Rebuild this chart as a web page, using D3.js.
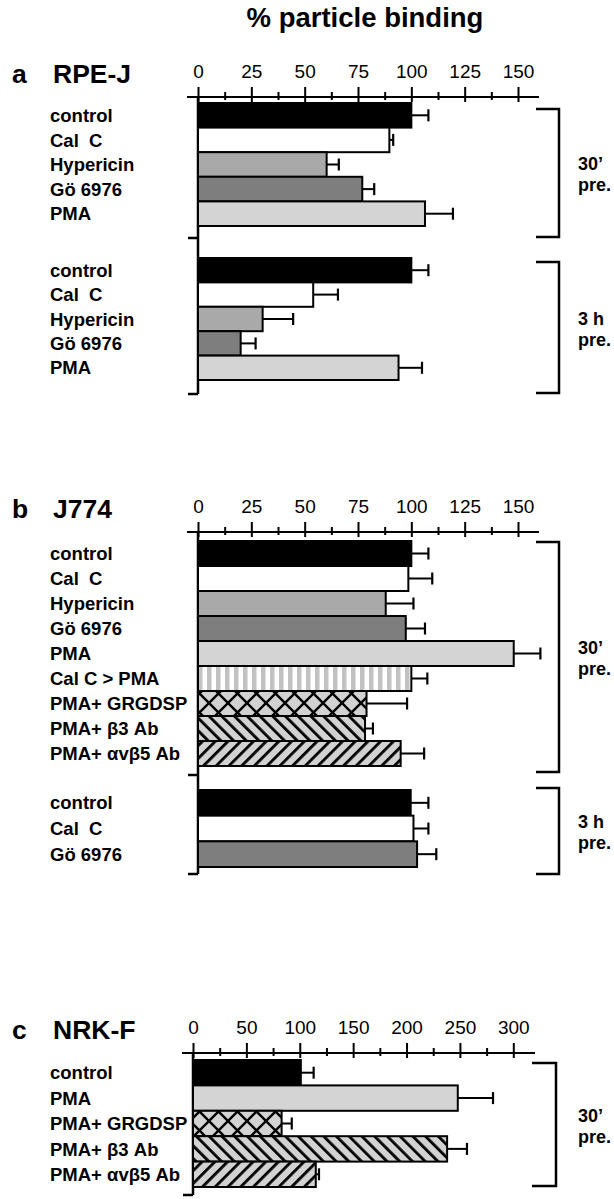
<!DOCTYPE html>
<html><head><meta charset="utf-8">
<script src="https://cdn.jsdelivr.net/npm/d3@7"></script>
<style>
body{margin:0;background:#fff}
svg{display:block}
text{font-family:"Liberation Sans",Arial,Helvetica,sans-serif;fill:#000}
</style>
</head><body>
<svg id="chart" width="614" height="1199"></svg>
<script>
// ---------- DATA ----------
const titleText = "% particle binding";

// Panel a: RPE-J
const aTicks = [0, 25, 50, 75, 100, 125, 150];
const aLabels1 = ["control", "Cal  C", "Hypericin", "Gö 6976", "PMA"];
const aValues1 = [100, 89.7, 60.3, 77, 106.4];
const aErrors1 = [8, 1.8, 5.7, 5.6, 13.1];
const aFills1 = ["black", "white", "hyp", "go", "pma"];
const aLabels2 = ["control", "Cal  C", "Hypericin", "Gö 6976", "PMA"];
const aValues2 = [100, 54, 30.3, 20, 94];
const aErrors2 = [8, 11.6, 14.3, 7, 11];
const aFills2 = ["black", "white", "hyp", "go", "pma"];

// Panel b: J774
const bTicks = [0, 25, 50, 75, 100, 125, 150];
const bLabels1 = ["control", "Cal  C", "Hypericin", "Gö 6976", "PMA", "Cal C > PMA", "PMA+ GRGDSP", "PMA+ β3 Ab", "PMA+ αvβ5 Ab"];
const bValues1 = [100, 98.6, 88, 97.4, 148, 100, 79, 78.3, 95];
const bErrors1 = [8, 11.2, 13, 9, 12.5, 7.5, 19, 3.7, 11];
const bFills1 = ["black", "white", "hyp", "go", "pma", "stripe", "cross", "back", "fwd"];
const bLabels2 = ["control", "Cal  C", "Gö 6976"];
const bValues2 = [99.7, 101, 102.7];
const bErrors2 = [8.3, 7, 9];
const bFills2 = ["black", "white", "go"];

// Panel c: NRK-F
const cTicks = [0, 50, 100, 150, 200, 250, 300];
const cLabels = ["control", "PMA", "PMA+ GRGDSP", "PMA+ β3 Ab", "PMA+ αvβ5 Ab"];
const cValues = [101, 248, 83, 238, 115];
const cErrors = [12, 33, 9.5, 18.6, 3];
const cFills = ["black", "pma", "cross", "back", "fwd"];

const bracketText30 = ["30’", "pre."];
const bracketText3h = ["3 h", "pre."];

// ---------- DRAW ----------
const svg = d3.select("#chart");
const defs = svg.append("defs");

(function(){
  let p = defs.append("pattern").attr("id","stripe").attr("patternUnits","userSpaceOnUse")
    .attr("width",9).attr("height",10);
  p.append("rect").attr("width",9).attr("height",10).attr("fill","#fff");
  p.append("rect").attr("x",0).attr("width",4.5).attr("height",10).attr("fill","#c2c2c2");

  p = defs.append("pattern").attr("id","cross").attr("patternUnits","userSpaceOnUse")
    .attr("width",19).attr("height",19);
  p.append("rect").attr("width",19).attr("height",19).attr("fill","#d2d2d2");
  p.append("path").attr("d","M-2,-2L21,21M21,-2L-2,21").attr("stroke","#000").attr("stroke-width",2.4);

  [["back",-45],["fwd",45]].forEach(([id,ang])=>{
    const q = defs.append("pattern").attr("id",id).attr("patternUnits","userSpaceOnUse")
      .attr("width",9).attr("height",9).attr("patternTransform",`rotate(${ang})`);
    q.append("rect").attr("width",9).attr("height",9).attr("fill","#d2d2d2");
    q.append("rect").attr("x",0).attr("width",2.8).attr("height",9).attr("fill","#000");
  });
})();

const fillMap = {
  black: "#000", white: "#fff", hyp: "#a9a9a9", go: "#7e7e7e", pma: "#d4d4d4",
  stripe: "url(#stripe)", cross: "url(#cross)", back: "url(#back)", fwd: "url(#fwd)"
};

svg.append("text").attr("x",365).attr("y",27).attr("text-anchor","middle")
  .style("font-size","27.5px").style("font-weight","bold").text(titleText);

function drawPanel(cfg){
  const g = svg.append("g");
  const x = d3.scaleLinear().domain([cfg.ticks[0], cfg.ticks[cfg.ticks.length-1]]).range(cfg.range);
  g.append("text").attr("x",12).attr("y",cfg.axisY-14).style("font-size","26.5px").style("font-weight","bold").text(cfg.letter);
  g.append("text").attr("x",53).attr("y",cfg.axisY-14).style("font-size","26.5px").style("font-weight","bold").text(cfg.name);

  g.append("line").attr("x1",cfg.axisExt[0]).attr("x2",cfg.axisExt[1])
    .attr("y1",cfg.axisY).attr("y2",cfg.axisY).attr("stroke","#000").attr("stroke-width",2);

  const step = cfg.ticks[1]-cfg.ticks[0];
  const minors = cfg.ticks.slice(0,-1).map(t=>t+step/2);
  const major = g.append("g").attr("transform",`translate(0,${cfg.axisY})`)
    .call(d3.axisTop(x).tickValues(cfg.ticks).tickSize(10).tickPadding(9).tickFormat(d3.format("d")));
  major.select(".domain").remove();
  major.selectAll(".tick line").attr("y1",5).attr("stroke-width",2);
  major.selectAll(".tick text").style("font-size","19px").style("font-family",'"Liberation Sans",Arial,sans-serif').attr("fill","#000");
  const minor = g.append("g").attr("transform",`translate(0,${cfg.axisY})`)
    .call(d3.axisTop(x).tickValues(minors).tickSize(5).tickFormat(""));
  minor.select(".domain").remove();
  minor.selectAll(".tick line").attr("y1",3).attr("stroke-width",2);

  const x0 = x(0);
  g.append("line").attr("x1",x0).attr("x2",x0).attr("y1",cfg.axisY).attr("y2",cfg.axisBottom)
    .attr("stroke","#000").attr("stroke-width",2.5);
  cfg.sepTicks.forEach(yy=>{
    g.append("line").attr("x1",x0-10).attr("x2",x0).attr("y1",yy).attr("y2",yy)
      .attr("stroke","#000").attr("stroke-width",2.5);
  });

  cfg.groups.forEach(grp=>{
    const idx = grp.labels.map((d,i)=>i);
    const y = d3.scaleBand().domain(idx).range([grp.top, grp.bottom]).padding(0);
    const rows = idx.map(i=>({label:grp.labels[i], v:grp.values[i], e:grp.errors[i], f:grp.fills[i]}));
    const row = g.append("g").selectAll("g").data(rows).join("g");
    row.append("line").attr("x1",d=>x(d.v)).attr("x2",d=>x(d.v+d.e))
      .attr("y1",(d,i)=>y(i)+y.bandwidth()/2).attr("y2",(d,i)=>y(i)+y.bandwidth()/2)
      .attr("stroke","#000").attr("stroke-width",2);
    row.append("line").attr("x1",d=>x(d.v+d.e)).attr("x2",d=>x(d.v+d.e))
      .attr("y1",(d,i)=>y(i)+y.bandwidth()/2-6).attr("y2",(d,i)=>y(i)+y.bandwidth()/2+6)
      .attr("stroke","#000").attr("stroke-width",2.2);
    row.append("rect").attr("x",x(0)).attr("y",(d,i)=>y(i))
      .attr("width",d=>x(d.v)-x(0)).attr("height",y.bandwidth())
      .attr("fill",d=>fillMap[d.f]).attr("stroke","#000").attr("stroke-width",2);
    row.append("text").attr("x",50).attr("y",(d,i)=>y(i)+y.bandwidth()/2).attr("dy","0.36em")
      .attr("xml:space","preserve").style("white-space","pre")
      .style("font-size","18.5px").style("font-weight","bold").text(d=>d.label);
    const b = grp.bracket;
    g.append("path").attr("d",`M${cfg.bracketX[0]},${b.top}H${cfg.bracketX[1]}V${b.bottom}H${cfg.bracketX[0]}`)
      .attr("fill","none").attr("stroke","#000").attr("stroke-width",2.5);
    const mid = (b.top+b.bottom)/2;
    b.text.forEach((t,k)=>{
      g.append("text").attr("x",578).attr("y",mid-3+k*21)
        .style("font-size","18px").style("font-weight","bold").text(t);
    });
  });
}

drawPanel({
  letter:"a", name:"RPE-J", ticks:aTicks, range:[198,518], axisExt:[187,539], axisY:97, axisBottom:394,
  sepTicks:[238,394], bracketX:[536,559],
  groups:[
    {labels:aLabels1, values:aValues1, errors:aErrors1, fills:aFills1, top:103, bottom:226,
     bracket:{top:109,bottom:237,text:bracketText30}},
    {labels:aLabels2, values:aValues2, errors:aErrors2, fills:aFills2, top:258, bottom:380,
     bracket:{top:262,bottom:393,text:bracketText3h}}
  ]
});
drawPanel({
  letter:"b", name:"J774", ticks:bTicks, range:[198,518], axisExt:[187,539], axisY:532, axisBottom:874,
  sepTicks:[775,874], bracketX:[536,559],
  groups:[
    {labels:bLabels1, values:bValues1, errors:bErrors1, fills:bFills1, top:541, bottom:766,
     bracket:{top:542,bottom:772,text:bracketText30}},
    {labels:bLabels2, values:bValues2, errors:bErrors2, fills:bFills2, top:790, bottom:867,
     bracket:{top:788,bottom:874,text:bracketText3h}}
  ]
});
drawPanel({
  letter:"c", name:"NRK-F", ticks:cTicks, range:[193,513.3], axisExt:[182,535], axisY:1053, axisBottom:1195,
  sepTicks:[1195], bracketX:[532,556],
  groups:[
    {labels:cLabels, values:cValues, errors:cErrors, fills:cFills, top:1060, bottom:1187,
     bracket:{top:1063,bottom:1186,text:bracketText30}}
  ]
});
</script>
</body></html>
